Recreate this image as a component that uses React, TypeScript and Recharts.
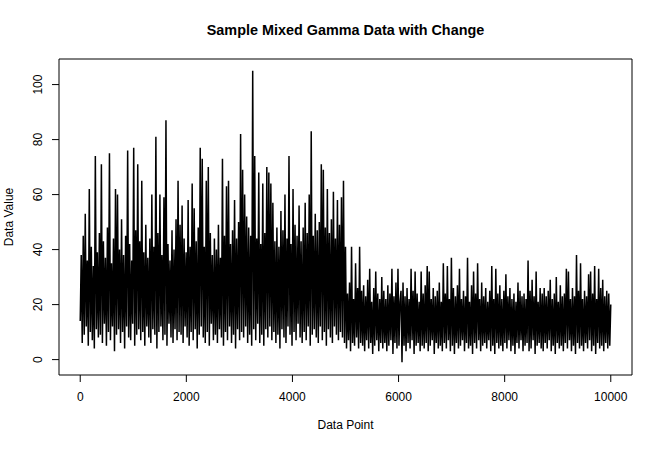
import React from 'react';
import { LineChart, Line, XAxis, YAxis, ReferenceArea } from 'recharts';

// values, ~1 sample per pixel column (every ~19th data point)
const beforeChange = [
  14, 38, 6, 45, 9, 53, 12, 36, 5, 62, 10, 41, 7, 34, 4, 74, 11, 39, 8, 46,
  9, 71, 6, 43, 13, 37, 5, 48, 10, 75, 7, 35, 12, 44, 3, 62, 9, 60, 11, 40,
  6, 51, 10, 38, 4, 45, 12, 76, 8, 42, 7, 36, 13, 77, 5, 47, 9, 71, 11, 43,
  7, 65, 10, 39, 5, 49, 12, 37, 8, 44, 6, 60, 11, 41, 9, 81, 4, 46, 10, 60,
  12, 38, 7, 59, 9, 87, 5, 42, 13, 36, 8, 47, 6, 40, 11, 51, 7, 65, 10, 49,
  9, 56, 6, 44, 12, 39, 8, 58, 5, 41, 10, 64, 7, 55, 11, 43, 4, 48, 9, 77,
  12, 73, 8, 41, 6, 65, 10, 70, 5, 46, 13, 38, 7, 44, 9, 40, 6, 49, 11, 37,
  8, 73, 5, 45, 10, 63, 7, 65, 12, 42, 6, 47, 9, 58, 4, 44, 11, 50, 7, 82,
  10, 69, 8, 60, 12, 52, 6, 48, 9, 45, 5, 105, 11, 74, 7, 44, 13, 68, 6, 42,
  9, 64, 5, 46, 11, 70, 8, 68, 12, 64, 7, 57, 10, 43, 6, 48, 9, 41, 4, 54,
  11, 47, 8, 60, 6, 44, 12, 74, 9, 42, 5, 62, 10, 49, 7, 45, 13, 56, 8, 43,
  6, 48, 10, 57, 7, 46, 12, 60, 5, 83, 9, 45, 11, 53, 8, 47, 6, 50, 12, 71,
  7, 69, 10, 48, 5, 62, 11, 46, 8, 51, 6, 61, 12, 44, 9, 58, 7, 49, 10, 59,
  8, 65, 6, 41,
];

const afterChange = [
  4, 24, 7, 28, 3, 41, 6, 22, 5, 35, 8, 26, 4, 41, 6, 25,
  5, 27, 3, 23, 7, 29, 4, 33, 6, 21, 2, 26, 5, 32, 7, 24, 3, 22, 6, 30,
  4, 25, 6, 22, 3, 27, 5, 24, 7, 33, 2, 23, 6, 28, 4, 33, 5, 21, 25, -1,
  28, 5, 23, 3, 26, 6, 22, 4, 33, 7, 25, 2, 32, 5, 24, 6, 21, 3, 32, 5,
  24, 4, 27, 6, 34, 3, 32, 5, 22, 7, 26, 2, 23, 6, 25, 4, 28, 5, 21, 3,
  35, 6, 24, 4, 34, 7, 22, 3, 37, 5, 26, 2, 23, 6, 27, 4, 33, 5, 22, 7,
  25, 3, 23, 6, 37, 4, 21, 5, 27, 2, 32, 6, 24, 4, 35, 7, 22, 3, 28, 5,
  23, 6, 26, 4, 21, 7, 25, 3, 34, 5, 22, 2, 33, 6, 24, 4, 27, 5, 22, 3,
  25, 6, 31, 4, 23, 7, 26, 3, 22, 5, 24, 2, 21, 6, 28, 4, 25, 7, 23, 3,
  24, 5, 22, 6, 36, 3, 25, 4, 29, 7, 23, 2, 32, 5, 21, 6, 26, 4, 24, 3,
  26, 6, 23, 4, 25, 7, 29, 3, 22, 5, 24, 2, 30, 6, 21, 4, 27, 5, 23, 3,
  24, 6, 33, 4, 32, 7, 22, 3, 26, 5, 23, 2, 38, 6, 25, 4, 35, 5, 22, 3,
  25, 6, 23, 4, 31, 7, 32, 3, 24, 5, 34, 2, 22, 6, 33, 4, 26, 5, 29, 3,
  23, 6, 25, 4, 24, 5, 20,
];

const xTicks = [0, 2000, 4000, 6000, 8000, 10000];
const yTicks = [0, 20, 40, 60, 80, 100];

const TOTAL_POINTS = 10000;
const FONT = '"Liberation Sans", Arial, Helvetica, sans-serif';

const allValues = [...beforeChange, ...afterChange];
const data = allValues.map((value, i) => ({
  point: Math.round((i * TOTAL_POINTS) / (allValues.length - 1)),
  value,
}));

const X_DOMAIN: [number, number] = [-400, 10400];
const Y_DOMAIN: [number, number] = [-5.6, 109.3];

function RotatedTick(props: any) {
  const { y, payload } = props;
  const bx = 42.5;
  return (
    <text
      x={bx}
      y={y}
      transform={`rotate(-90, ${bx}, ${y})`}
      textAnchor="middle"
      fontSize={12}
      fontFamily={FONT}
      fill="#000"
    >
      {payload.value}
    </text>
  );
}

export default function App() {
  return (
    <div style={{ position: 'absolute', left: 0, top: 0, width: 662, height: 449, background: '#fff' }}>
      <LineChart
        width={662}
        height={449}
        data={data}
        margin={{ top: 59, right: 30, left: 0, bottom: 0 }}
      >
        <XAxis
          dataKey="point"
          type="number"
          domain={X_DOMAIN}
          ticks={xTicks}
          allowDataOverflow
          height={74}
          axisLine={false}
          stroke="#000"
          tickSize={7}
          tickMargin={10}
          tick={{ fill: '#000', fontSize: 12, fontFamily: FONT }}
        />
        <YAxis
          type="number"
          domain={Y_DOMAIN}
          ticks={yTicks}
          allowDataOverflow
          width={59}
          axisLine={false}
          stroke="#000"
          tickSize={7}
          tick={<RotatedTick />}
        />
        <Line
          type="linear"
          dataKey="value"
          stroke="#000"
          strokeWidth={1.5}
          strokeLinejoin="miter"
          dot={false}
          isAnimationActive={false}
        />
        <ReferenceArea
          x1={X_DOMAIN[0]}
          x2={X_DOMAIN[1]}
          y1={Y_DOMAIN[0]}
          y2={Y_DOMAIN[1]}
          fill="none"
          stroke="#000"
          strokeWidth={1}
          ifOverflow="visible"
        />
      </LineChart>
      <svg
        width={662}
        height={449}
        style={{ position: 'absolute', left: 0, top: 0, pointerEvents: 'none' }}
      >
        <text x={345.5} y={34.5} textAnchor="middle" fontSize={14.4} fontWeight="bold" fontFamily={FONT} fill="#000">
          Sample Mixed Gamma Data with Change
        </text>
        <text x={345.5} y={429} textAnchor="middle" fontSize={12} fontFamily={FONT} fill="#000">
          Data Point
        </text>
        <text
          x={12.7}
          y={217}
          transform="rotate(-90, 12.7, 217)"
          textAnchor="middle"
          fontSize={12}
          fontFamily={FONT}
          fill="#000"
        >
          Data Value
        </text>
      </svg>
    </div>
  );
}
